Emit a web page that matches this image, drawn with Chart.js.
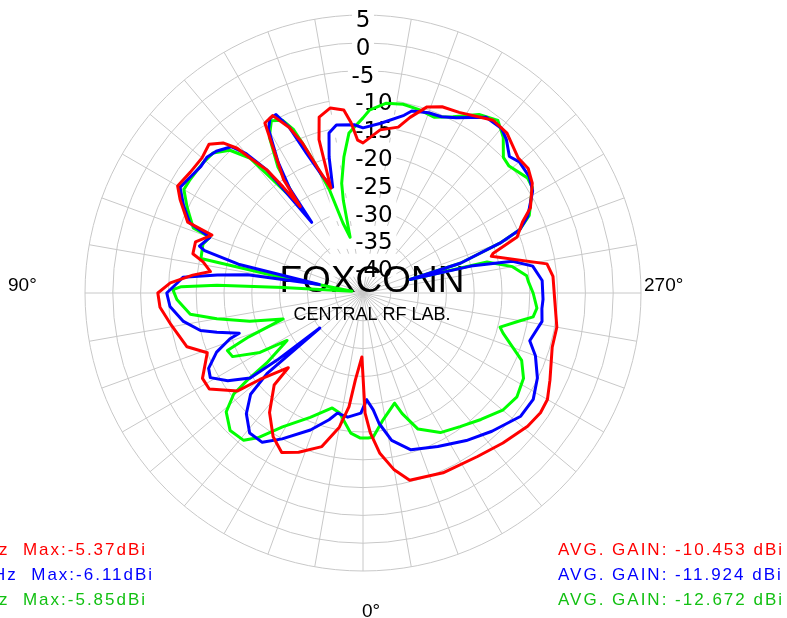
<!DOCTYPE html>
<html>
<head>
<meta charset="utf-8">
<style>
  html, body { margin: 0; padding: 0; background: #ffffff; }
  #wrap { position: relative; width: 787px; height: 618px; overflow: hidden; }
</style>
<script src="https://cdn.jsdelivr.net/npm/chart.js@4.4.1/dist/chart.umd.min.js"></script>
</head>
<body>
<div id="wrap"><canvas id="c" width="787" height="618"></canvas></div>
<script>
// ---- data (angle in degrees, gain in dBi) ----
const redAngles = [1,5,7,10,15,22,27,32,38,44,45,50,52,58,62,69,73,81,86,90,93,96,98,101,103,107,111,112,117,120,125,130,134,137,139,140,142,143,144,145,150,153,156,158,160,163,164,166,170,174,176,178,180,186,192,195,199,203,208,217,222,229,233,237,243,246,250,253,254,261,265,272,280,286,295,300,304,309,317,325,336,346,350,354,357,359];
const redGain   = [-33.5,-29.3,-24.4,-20.5,-16.4,-14.1,-12.8,-14.5,-17.7,-22,-26,-20.8,-16.4,-12.4,-12.3,-15.0,-11.9,-9.9,-8.4,-8.1,-10.3,-14.2,-17.3,-15.7,-13.6,-13.5,-15.9,-11,-8.1,-6.5,-7.1,-7.2,-6.5,-8.1,-10.5,-13.2,-16.9,-21.1,-25.8,-20.1,-9.7,-9.2,-12.4,-15.9,-20.9,-25.3,-16.3,-12.4,-11.2,-11.9,-14.3,-17.5,-18,-15.5,-14.5,-12.3,-9.6,-8.6,-8.2,-6.1,-6.3,-8.0,-7.8,-8.7,-11.2,-13.6,-15.5,-20.5,-21,-11.5,-10.7,-10.5,-9.6,-9.6,-7.9,-6.7,-6.5,-6.9,-8.1,-9.1,-9.6,-10.3,-12.7,-16.0,-19.8,-23.4];

const blueAngles = [1,7,12,15,21,29,34,39,44,48,50,51,52,53,57,61,64,68,71,72,75,77,81,86,90,93,95,97,99,101,103,105,106,110,112,116,120,124,128,131,134,138,140,142,144,145,147,150,152,154,156,158,161,164,166,168,171,177,180,186,193,195,200,204,208,215,220,223,227,230,235,239,245,248,250,253,254,256,258,261,266,272,275,279,286,290,296,302,308,317,325,334,343,349,353,355,358];
const blueGain   = [-23.4,-22.5,-22.9,-21.4,-18.6,-15,-12.6,-12.6,-14.8,-17.8,-22.5,-35,-25.4,-19.6,-16.0,-13.6,-14.1,-16.6,-19.7,-21.6,-17.8,-15,-12.3,-10.2,-9.7,-11.5,-12.5,-18.6,-24,-37,-22,-15.5,-14.4,-15.7,-11.4,-9.1,-7,-7.6,-8.0,-7.8,-8.3,-9.6,-12.3,-16.9,-29.3,-22,-17,-11,-9.4,-9.3,-12.4,-17.9,-22.9,-25.2,-19.8,-15.6,-14.4,-14.7,-15.3,-14.3,-12.2,-11.1,-10.5,-10.3,-9.3,-6.4,-6.3,-7.2,-9.0,-8.3,-8.5,-9.4,-12.3,-14.6,-18.8,-26.7,-36.2,-25,-17.5,-14.1,-12.7,-12.6,-12.7,-12.4,-13.8,-12.0,-10.1,-8.9,-9.0,-11.0,-12.6,-14.3,-15.5,-18.0,-21.4,-23.9,-25.8];

const greenAngles = [1,5,11,15,23,31,36,39,44,49,52,53,54,58,60,64,67,69,72,76,80,83,88,91,92,93,94,99,101,102,107,110,111,116,120,123,129,133,137,140,141,143,144,146,149,152,155,157,158,160,162,164,167,168,169,172,175,180,182,187,192,197,202,207,213,218,222,226,229,235,238,245,248,250,253,254,256,260,264,266,270,275,278,280,284,286,290,293,298,304,310,317,324,331,338,342,344,351,356,358];
const greenGain   = [-18.9,-19.7,-23.0,-23.6,-20.7,-16.9,-12.8,-10.9,-10.6,-12.4,-15.5,-18.9,-23.6,-28.9,-23.6,-18.9,-18.5,-23,-29.9,-24.0,-18.3,-13.7,-11.5,-10.8,-12.3,-18.7,-30.6,-43,-28.8,-15.2,-14.9,-15.7,-12.3,-9.8,-7.8,-7.8,-7.9,-8.1,-9.9,-13.3,-17.4,-23.3,-24.9,-17.6,-12.3,-9.9,-10.7,-13.1,-15.9,-20.9,-25.6,-31.9,-34.7,-28,-24.9,-20.3,-16.1,-13.5,-12.1,-10.6,-10.3,-10.5,-10.9,-9.4,-6.7,-5.6,-7.3,-9.9,-10.2,-8.9,-9.1,-12,-14.6,-18.8,-26.7,-36.2,-22,-17.7,-15.4,-15.2,-14.4,-13.6,-14.1,-16.3,-19.6,-18.8,-16.3,-14,-12.3,-11.6,-12.2,-13.9,-15.3,-16.3,-18.6,-22.2,-24.4,-21.9,-19,-18.9];

const maxTexts = ['z  Max:-5.37dBi', 'Hz  Max:-6.11dBi', 'z  Max:-5.85dBi'];
const avgTexts = ['AVG. GAIN: -10.453 dBi', 'AVG. GAIN: -11.924 dBi', 'AVG. GAIN: -12.672 dBi'];
const seriesColors = ['#ff0000', '#0000ff', '#00ff00'];
const textColors = ['#ff0000', '#0000ff', '#12c012'];
const axisAngleLabels = ['90°', '270°', '0°'];

// radar category order: index 0 at the top (180°), clockwise
const angleLabels = Array.from({ length: 360 }, (_, i) => (180 + i) % 360);
function toRadar(angles, gains) {
  const arr = new Array(360).fill(null);
  angles.forEach((a, k) => { arr[(a + 180) % 360] = gains[k]; });
  return arr;
}

const textPlugin = {
  id: 'textPlugin',
  beforeDatasetsDraw(chart) {
    const ctx = chart.ctx;
    const r = chart.scales.r;
    ctx.save();
    ctx.fillStyle = '#000';
    ctx.textAlign = 'center';
    ctx.textBaseline = 'alphabetic';
    ctx.font = '37px "Liberation Sans", Arial, sans-serif';
    ctx.fillText('FOXCONN', r.xCenter + 9, r.yCenter - 1);
    ctx.font = '18px "Liberation Sans", Arial, sans-serif';
    ctx.fillText('CENTRAL RF LAB.', r.xCenter + 9, r.yCenter + 27);
    ctx.restore();
  },
  afterDraw(chart) {
    const ctx = chart.ctx;
    const r = chart.scales.r;
    ctx.save();
    ctx.textBaseline = 'alphabetic';
    ctx.textAlign = 'left';
    ctx.fillStyle = '#000';
    ctx.font = '19px "Liberation Sans", Arial, sans-serif';
    ctx.fillText(axisAngleLabels[0], 8, r.yCenter - 2);
    ctx.fillText(axisAngleLabels[1], 644, r.yCenter - 2);
    ctx.fillText(axisAngleLabels[2], r.xCenter - 1, 617);
    ctx.font = '17px "Liberation Sans", Arial, sans-serif';
    ctx.letterSpacing = '2px';
    const ys = [555, 580, 605];
    const xs = [-1, -7, -1];
    for (let k = 0; k < 3; k++) {
      ctx.fillStyle = textColors[k];
      ctx.fillText(maxTexts[k], xs[k], ys[k]);
      ctx.fillText(avgTexts[k], 558, ys[k]);
    }
    ctx.restore();
  }
};

const mkSet = (d, c) => ({
  data: d, borderColor: c, backgroundColor: c, borderWidth: 3, fill: false,
  pointRadius: 0, pointHoverRadius: 0, pointHitRadius: 0, spanGaps: true, tension: 0,
  borderJoinStyle: 'round'
});

new Chart(document.getElementById('c'), {
  type: 'radar',
  data: {
    labels: angleLabels,
    datasets: [
      mkSet(toRadar(redAngles, redGain), seriesColors[0]),
      mkSet(toRadar(blueAngles, blueGain), seriesColors[1]),
      mkSet(toRadar(greenAngles, greenGain), seriesColors[2])
    ]
  },
  options: {
    responsive: false,
    animation: false,
    layout: { padding: { left: 0, right: 61, top: 3, bottom: 35 } },
    plugins: { legend: { display: false }, tooltip: { enabled: false } },
    scales: {
      r: {
        min: -45, max: 5,
        startAngle: 0,
        ticks: {
          stepSize: 5,
          color: '#000',
          font: { family: '"DejaVu Sans", sans-serif', size: 23, lineHeight: '6px' },
          showLabelBackdrop: true,
          backdropColor: '#ffffff',
          backdropPadding: (c) => (c.tick && c.tick.value <= -10) ? { top: 0, bottom: 0, left: -24, right: 0 } : 0,
          callback: (v) => v === -45 ? '' : ['', (v <= -10 ? '   ' : '') + v]
        },
        grid: { circular: true, color: '#c8c8c8', lineWidth: 1 },
        angleLines: {
          display: true,
          color: '#c8c8c8',
          lineWidth: (c) => { const a = (180 + c.index) % 360; return (a % 10 === 0 && a !== 180) ? 1 : 0; }
        },
        pointLabels: { display: false }
      }
    }
  },
  plugins: [textPlugin]
});
</script>
</body>
</html>
